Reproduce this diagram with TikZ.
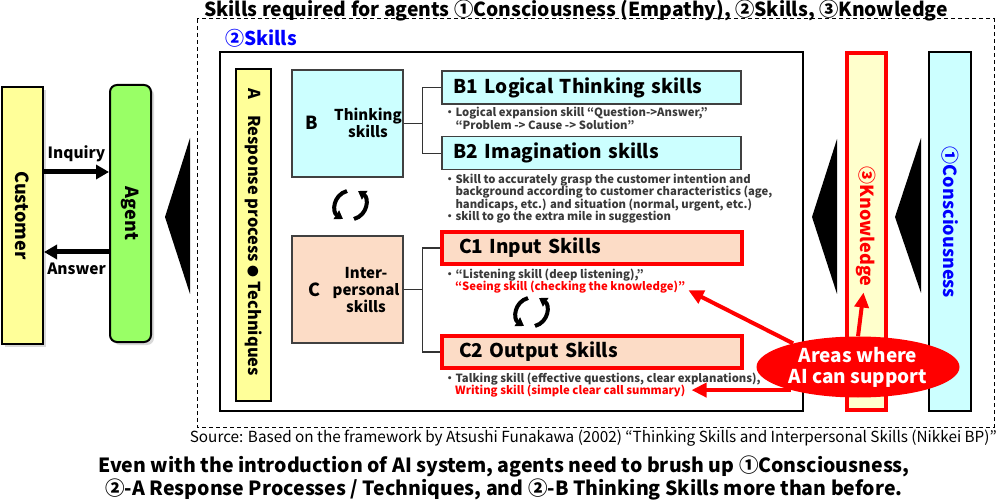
\documentclass[tikz,border=0pt]{standalone}
\usepackage{fontspec}
\setmainfont{Noto Sans CJK JP}
\usetikzlibrary{arrows.meta,shapes.geometric,shadows}

\definecolor{palecyan}{HTML}{CCFFFF}
\definecolor{peach}{HTML}{FCDCC6}
\definecolor{lemon}{HTML}{FFFF99}
\definecolor{cream}{HTML}{FFFFCC}
\definecolor{lime}{HTML}{99FF66}
\definecolor{darktext}{HTML}{3A3A3A}
\newcommand\fsz[2]{\fontsize{#1}{#2}\selectfont}

\begin{document}
\begin{tikzpicture}[x=1pt,y=-1pt,
  skillbox/.style={draw=black!75,line width=1.5pt,fill=palecyan,anchor=north west,
    minimum height=33pt,text width=275pt,inner xsep=12pt,inner ysep=0pt,align=left,
    font=\bfseries\fsz{19}{21}},
  inputbox/.style={skillbox,draw=red,line width=4pt,fill=peach,minimum height=32pt,
    text width=266pt,inner xsep=17pt},
  groupbox/.style={draw=black!75,line width=1.2pt,minimum width=111pt,minimum height=107pt},
  desc/.style={anchor=north west,align=left,inner sep=0pt,text=darktext,
    font=\bfseries\fsz{11.3}{12.6}},
  redtext/.style={desc,text=red},
  barbox/.style={draw,line width=2pt,minimum width=41pt,minimum height=257pt,
    font=\bfseries\fsz{18}{20}},
  link/.style={draw=black!80,line width=1.2pt},
  flow/.style={line width=5pt,-{Triangle[length=13pt,width=14pt]}},
  aiarrow/.style={draw=red,line width=4pt,-{Triangle[length=15pt,width=14pt]}},
  swap arrows/.pic={
    \draw[line width=4pt,-{Triangle[length=8pt,width=10pt]}] (-3,-14) .. controls (-17,-10) and (-18,7) .. (-7,14);
    \draw[line width=4pt,-{Triangle[length=8pt,width=10pt]}] (4,14) .. controls (18,10) and (19,-7) .. (8,-14);
  }]
  \useasboundingbox (0,0) rectangle (1000,502);

  \node[inner sep=0pt,font=\bfseries\fsz{19.3}{21}] (title) at (576,10.5) {Skills required for agents ①Consciousness (Empathy), ②Skills, ③Knowledge};
  \draw[dash pattern=on 4pt off 3pt,line width=1pt] (197,19) rectangle (994,427);
  \node[anchor=west,inner sep=0pt,text=blue,font=\bfseries\fsz{19}{21}] (skillslbl) at (225,38) {②Skills};
  \draw[line width=2.5pt] (220,52) rectangle (803,411);

  \node[barbox,fill=lemon,drop shadow={shadow xshift=3pt,shadow yshift=-3pt,opacity=.3}] (cust) at (22.5,215.5) {\rotatebox{-90}{Customer}};
  \node[barbox,fill=lime,rounded corners=7pt,drop shadow={shadow xshift=3pt,shadow yshift=-3pt,opacity=.3}] (agent) at (130.5,213.5) {\rotatebox{-90}{Agent}};
  \coordinate (inq) at (76,172);
  \coordinate (ans) at (76,252);
  \draw[flow] (cust.east |- inq) -- (agent.west |- inq)
    node[midway,above=4pt,font=\bfseries\fsz{15.5}{17}] (inqlbl) {Inquiry};
  \draw[flow] (agent.west |- ans) -- (cust.east |- ans)
    node[midway,below=5pt,font=\bfseries\fsz{15.5}{17}] (anslbl) {Answer};
  \fill (190,138) -- (165,217) -- (190,294) -- cycle;

  \node[draw,line width=1.5pt,fill=lemon,minimum width=35pt,minimum height=332pt,
    font=\bfseries\fsz{16.4}{18}] (abar) at (253.5,235) {\rotatebox{-90}{A\quad Response process {\fsz{12}{14}●} Techniques\hspace{6pt}}};

  \node[groupbox,fill=palecyan] (bgroup) at (347.5,123.5) {};
  \node[font=\bfseries\fsz{18}{20}] (bletter) at (312,123) {B};
  \node[font=\bfseries\fsz{15}{17},align=center] (bname) at (368,123) {Thinking\\skills};
  \node[groupbox,fill=peach] (cgroup) at (347.5,289.5) {};
  \node[font=\bfseries\fsz{18}{20}] (cletter) at (314,290) {C};
  \node[font=\bfseries\fsz{15}{17},align=center] (cname) at (366,290) {Inter-\\personal\\skills};
  \pic at (350,205) {swap arrows};

  \node[skillbox] (b1) at (441,70.5) {B1 Logical Thinking skills};
  \node[skillbox] (b2) at (441,136) {B2 Imagination skills};
  \node[inputbox] (c1) at (440,230) {C1 Input Skills};
  \node[inputbox] (c2) at (440,334) {C2 Output Skills};
  \draw[link] (bgroup.east) -- ++(19,0) |- (b1.west);
  \draw[link] (bgroup.east) -- ++(19,0) |- (b2.west);
  \draw[link] (cgroup.east) -- ++(19,0) |- (c1.west);
  \draw[link] (cgroup.east) -- ++(19,0) |- (c2.west);

  \node[desc] (b1d) at (444,107) {・Logical expansion skill “Question->Answer,”\\\phantom{・}“Problem -> Cause -> Solution”};
  \node[desc] (b2d) at (444,173.5) {・Skill to accurately grasp the customer intention and\\
    \phantom{・}background according to customer characteristics (age,\\
    \phantom{・}handicaps, etc.) and situation (normal, urgent, etc.)\\
    ・skill to go the extra mile in suggestion};
  \node[desc] (c1a) at (444,268.5) {・“Listening skill (deep listening),”};
  \node[redtext] (c1b) at (455,281) {“Seeing skill (checking the knowledge)”};
  \pic at (531,312) {swap arrows};
  \node[desc] (c2a) at (444,372.5) {・Talking skill (effective questions, clear explanations),};
  \node[redtext] (c2b) at (455,385) {Writing skill (simple clear call summary)};

  \fill (837,139) -- (812,217) -- (837,294) -- cycle;
  \fill (921,138) -- (895,217) -- (921,293) -- cycle;
  \node[barbox,draw=red,line width=4pt,fill=cream,minimum width=39pt,minimum height=357pt,text=red] (know) at (866.5,231.5) {\rotatebox{-90}{③Knowledge\hspace{10pt}}};
  \node[barbox,fill=palecyan,minimum width=42pt,minimum height=359pt,text=blue] (consc) at (950,231.5) {\rotatebox{-90}{①Consciousness\hspace{18pt}}};

  \node[ellipse,fill=red,minimum width=203pt,minimum height=61pt,inner sep=0pt,text=white,align=center,
    font=\bfseries\fsz{19}{21}] (ai) at (858,367) {Areas where\\AI can support};
  \draw[aiarrow] (ai.160) -- ([shift={(3pt,-3pt)}]c1b.east);
  \draw[aiarrow,shorten >=6pt] (ai.199) -- (ai.199 -| c2b.east);
  \draw[aiarrow] (ai.north) -- ([shift={(-3pt,-61pt)}]know.center);

  \node[anchor=east,inner sep=0pt,font=\fsz{15.3}{17}] (source) at (997,438) {Source: Based on the framework by Atsushi Funakawa (2002) “Thinking Skills and Interpersonal Skills (Nikkei BP)”};
  \node[align=center,font=\bfseries\fsz{19.5}{23}] (summary) at (504,478) {Even with the introduction of AI system, agents need to brush up ①Consciousness,\\②-A Response Processes / Techniques, and ②-B Thinking Skills more than before.};
\end{tikzpicture}
\end{document}
